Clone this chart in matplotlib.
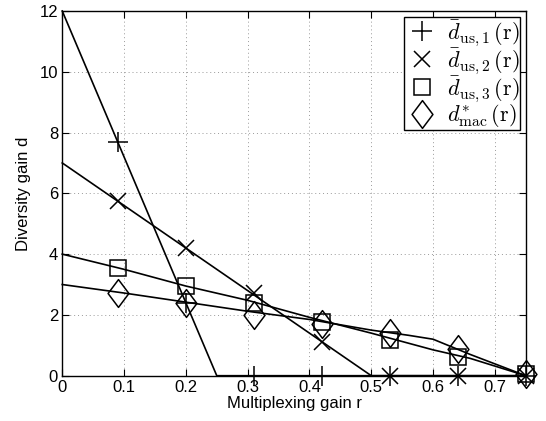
import matplotlib
matplotlib.use("Agg")
import matplotlib.pyplot as plt
from matplotlib.path import Path

plt.rcParams['font.family'] = ['Liberation Sans', 'DejaVu Sans']
plt.rcParams['mathtext.fontset'] = 'cm'

# Theoretical DMT curves (piecewise)
r_us1 = [0.0, 0.25, 0.75]
d_us1 = [12.0, 0.0, 0.0]
r_us2 = [0.0, 0.5, 0.75]
d_us2 = [7.0, 0.0, 0.0]
r_us3 = [0.0, 0.1, 0.2, 0.3, 0.4, 0.5, 0.6, 0.66, 0.75]
d_us3 = [4.0, 3.5, 2.95, 2.48, 1.92, 1.40, 0.85, 0.57, 0.0]
r_mac = [0.0, 0.1, 0.2, 0.3, 0.4, 0.5, 0.56, 0.6, 0.66, 0.75]
d_mac = [3.0, 2.72, 2.42, 2.12, 1.85, 1.50, 1.33, 1.2, 0.7, 0.0]

# Simulated points
r_sim = [0.09, 0.2, 0.31, 0.42, 0.53, 0.64, 0.75]
sim_us1 = [7.7, 2.4, 0.0, 0.0, 0.0, 0.0, 0.0]
sim_us2 = [5.75, 4.21, 2.71, 1.12, 0.0, 0.0, 0.0]
sim_us3 = [3.53, 2.95, 2.40, 1.77, 1.19, 0.62, 0.05]
sim_mac = [2.73, 2.38, 2.0, 1.70, 1.41, 0.89, 0.05]

labels = [r'$\bar{d}_{\mathrm{us},1}\,(\mathrm{r})$',
          r'$\bar{d}_{\mathrm{us},2}\,(\mathrm{r})$',
          r'$\bar{d}_{\mathrm{us},3}\,(\mathrm{r})$',
          r'$d^{*}_{\mathrm{mac}}\,(\mathrm{r})$']

x_ticks = [0, 0.1, 0.2, 0.3, 0.4, 0.5, 0.6, 0.7]
x_ticklabels = ['0', '0.1', '0.2', '0.3', '0.4', '0.5', '0.6', '0.7']
y_ticks = [0, 2, 4, 6, 8, 10, 12]

tall_diamond = Path([(0, 1), (0.75, 0), (0, -1), (-0.75, 0), (0, 1)],
                    [Path.MOVETO, Path.LINETO, Path.LINETO, Path.LINETO, Path.CLOSEPOLY])

fig = plt.figure(figsize=(5.46, 4.21), dpi=100)
ax = fig.add_axes([0.114, 0.1076, 0.849, 0.8663])

lw = 1.2
for rr, dd in [(r_us1, d_us1), (r_us2, d_us2), (r_us3, d_us3), (r_mac, d_mac)]:
    ax.plot(rr, dd, color='black', linewidth=lw, clip_on=False, zorder=3)

specs = [(sim_us1, '+', 15), (sim_us2, 'x', 11.5), (sim_us3, 's', 12), (sim_mac, tall_diamond, 20)]
for (vals, mk, ms), lab in zip(specs, labels):
    ax.plot(r_sim, vals, linestyle='none', marker=mk, markersize=ms,
            markerfacecolor='none', markeredgecolor='black', markeredgewidth=1.1,
            clip_on=False, zorder=4, label=lab)

ax.set_xlim(0, 0.75)
ax.set_ylim(0, 12)
ax.set_xticks(x_ticks)
ax.set_xticklabels(x_ticklabels)
ax.set_yticks(y_ticks)
ax.tick_params(direction='in', top=True, right=True, length=5, width=0.8,
               labelsize=12, pad=3)
ax.grid(True, linestyle=(0, (1, 3)), color='#999999', linewidth=0.7)
for sp in ax.spines.values():
    sp.set_linewidth(1.0)
    sp.set_color('black')

ax.set_xlabel('Multiplexing gain r', fontsize=12, labelpad=1)
ax.set_ylabel('Diversity gain d', fontsize=12, labelpad=6)

leg = ax.legend(loc='upper right', fontsize=16, handlelength=1.5, handletextpad=0.35,
                borderpad=0.05, labelspacing=-0.08, borderaxespad=0.25,
                fancybox=False, framealpha=1, edgecolor='black')
leg.get_frame().set_linewidth(1.0)

fig.savefig('out.png', dpi=100)
